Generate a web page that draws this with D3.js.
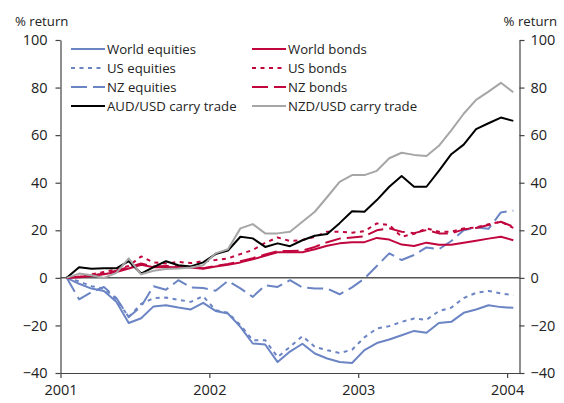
<!DOCTYPE html>
<html><head><meta charset="utf-8">
<script src="https://cdn.jsdelivr.net/npm/d3@7"></script>
<style>
html,body{margin:0;padding:0;background:#fff;}
svg text{font-family:"Open Sans",sans-serif;fill:#222;}
</style></head>
<body><svg id="c" width="564" height="403"></svg>
<script>
// Monthly observations, Jan 2001 .. Jan 2004 (37 points)
const months = d3.timeMonth.range(new Date(2001,0,1), new Date(2004,1,1));
const yearTicks = [2001, 2002, 2003, 2004];
const yTicks = [-40, -20, 0, 20, 40, 60, 80, 100];

const worldEquities = [0,-2.5,-4.5,-5.5,-10,-19,-17,-12,-11.5,-12.5,-13.3,-10.5,-13.9,-15,-20.6,-27.6,-28,-35.4,-31,-27.7,-31.8,-33.9,-35.4,-35.8,-30.4,-27.4,-25.9,-24.1,-22.3,-23.1,-19,-18.5,-14.7,-13.3,-11.5,-12.3,-12.6];
const usEquities = [0,-1.5,-3.5,-4.5,-9,-16.4,-11,-8.5,-8.3,-9.2,-10.1,-7.7,-13.6,-14.7,-19.9,-26.2,-26.2,-33.3,-29,-24.5,-29,-30.4,-31.6,-30.2,-25,-21.3,-20.3,-18.5,-17.1,-17.6,-14,-12.5,-8.5,-6.3,-5.5,-6.5,-7.3];
const nzEquities = [0,-9,-6,-3.8,-8.5,-16.5,-12,-3.5,-5,-1,-4,-4.3,-5.4,-1.3,-4.4,-8,-3.1,-3.8,-1,-4,-4.5,-4.5,-6.9,-4,-0.3,5,10.3,7.5,9.6,12.8,12,15.5,20,21.2,20.6,27.5,28.3];
const audCarry = [0,4.5,3.8,4,4,7,1.8,4.5,7,5.3,4.8,6.5,10,11.5,17.3,16.6,13,14.5,13.3,15.8,17.7,18.4,23,28,27.8,32.7,38.3,42.8,38.3,38.3,45,52,56,62.5,65,67.4,66];
const worldBonds = [0,0.3,0.8,1.5,2.5,3.9,5.5,4.5,4.6,4.5,4.4,3.8,4.8,5.5,6.5,7.8,9.3,10.8,10.8,10.8,12,13.5,14.5,15,15,16.8,16.1,14,13.4,14.8,13.9,13.9,14.8,15.6,16.5,17.3,15.8];
const usBonds = [0,0.5,1.5,2.5,3.5,5,9,6.5,6,6.7,6.2,7,7.5,8.2,10,11.7,14.7,17,15.5,15.9,17.3,19.4,19.4,19,19.6,22.9,22.2,17.3,18.5,20.8,19.4,19.4,20.8,21.2,22.5,23.6,21];
const nzBonds = [0,0.5,1,1.8,3,4.5,6,4.8,5,4.8,4.6,4,5,5.8,7,8.3,9.8,11.2,11.3,11.5,13,15,16.5,17,17.5,20,20.8,19.4,18.8,20.1,18.7,18.7,20.4,21,22.2,23.6,21.5];
const nzdCarry = [0,1.8,1.1,0,2.1,8.2,1.5,3,3.7,3.9,4.4,5.3,10.3,12,20.8,22.6,18.7,18.7,19.4,23.6,27.8,34,40.4,43.2,43.2,45,50.3,52.6,51.7,51.2,55.5,62,69,74.8,78.3,82,78];

const seriesNames = ["World equities","US equities","NZ equities","AUD/USD carry trade","World bonds","US bonds","NZ bonds","NZD/USD carry trade"];
const seriesValues = [worldEquities, usEquities, nzEquities, audCarry, worldBonds, usBonds, nzBonds, nzdCarry];

const BLUE = "#6b84c4", RED = "#c0063d", BLACK = "#000", GREY = "#a6a6a6";
const styles = [
  {c:BLUE, d:null}, {c:BLUE, d:"4,4.5"}, {c:BLUE, d:"16,6"}, {c:BLACK, d:null},
  {c:RED, d:null}, {c:RED, d:"4,4.5"}, {c:RED, d:"16,6"}, {c:GREY, d:null}
];

const svg = d3.select("#c");
const L = 60.5, R = 519.5, T = 40, B = 373;
const yearFrac = d => d.getFullYear() + d.getMonth()/12 + 0.5/12;
const x = d3.scaleLinear().domain([2001, 2004 + 1/12]).range([L, R]);
const y = d3.scaleLinear().domain([-40, 100]).range([B, T]);

// zero line
svg.append("line").attr("x1", L).attr("x2", R).attr("y1", y(0)).attr("y2", y(0))
  .attr("stroke", "#000").attr("stroke-width", 1);

// axes
const fsTick = 14.5, fsText = 13.2;
const axL = svg.append("g").attr("transform", `translate(${L},0)`)
  .call(d3.axisLeft(y).tickValues(yTicks).tickSize(5).tickSizeOuter(0).tickPadding(8));
const axR = svg.append("g").attr("transform", `translate(${R},0)`)
  .call(d3.axisRight(y).tickValues(yTicks).tickSize(5).tickSizeOuter(0).tickPadding(6));
const axB = svg.append("g").attr("transform", `translate(0,${B})`)
  .call(d3.axisBottom(x).tickValues(yearTicks).tickFormat(d3.format("d")).tickSize(5).tickSizeOuter(0).tickPadding(7));
[axL, axR, axB].forEach(g => {
  g.selectAll("path").attr("stroke", "#444").attr("stroke-width", 1.2);
  g.selectAll("line").attr("stroke", "#444").attr("stroke-width", 1.2);
  g.selectAll("text").style("font-size", fsTick + "px").style("font-family", '"Open Sans",sans-serif').attr("fill", "#222");
});

// lines
const line = d3.line().x((d, i) => x(yearFrac(months[i]))).y(d => y(d));
const order = [0, 1, 2, 4, 5, 6, 3, 7];
order.forEach(k => {
  svg.append("path").datum(seriesValues[k])
    .attr("fill", "none").attr("stroke", styles[k].c).attr("stroke-width", 2)
    .attr("stroke-linejoin", "round")
    .attr("stroke-dasharray", styles[k].d)
    .attr("d", line);
});

// titles
svg.append("text").attr("x", 15).attr("y", 26).style("font-size", fsText + "px").text("% return");
svg.append("text").attr("x", 557).attr("y", 26).attr("text-anchor", "end").style("font-size", fsText + "px").text("% return");

// legend
const cols = [{x: 71}, {x: 252}];
seriesNames.forEach((name, k) => {
  const col = Math.floor(k / 4), row = k % 4;
  const lx = cols[col].x, ly = 49 + row * 19;
  svg.append("line").attr("x1", lx).attr("x2", lx + 34).attr("y1", ly).attr("y2", ly)
    .attr("stroke", styles[k].c).attr("stroke-width", 2).attr("stroke-dasharray", styles[k].d);
  svg.append("text").attr("x", lx + 36).attr("y", ly + 5).style("font-size", fsText + "px").text(name);
});
</script></body></html>
